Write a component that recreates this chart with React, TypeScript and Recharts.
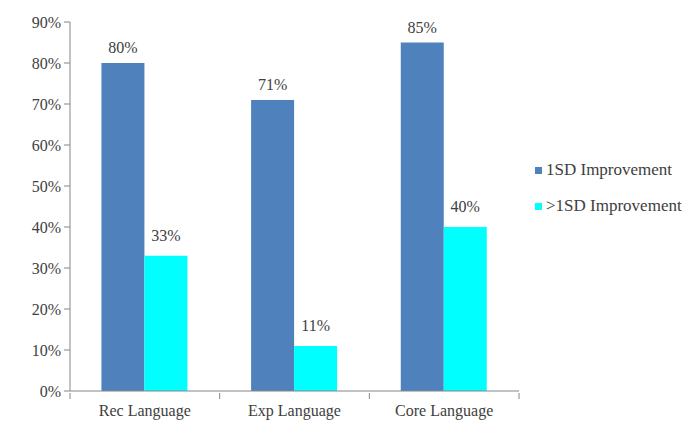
import { BarChart, Bar, XAxis, YAxis, LabelList } from 'recharts'

const categories = ['Rec Language', 'Exp Language', 'Core Language']
const oneSd = [80, 71, 85]
const moreThanOneSd = [33, 11, 40]
const yTicks = [0, 10, 20, 30, 40, 50, 60, 70, 80, 90]

const data = categories.map((name, i) => ({
  name,
  oneSd: oneSd[i],
  moreThanOneSd: moreThanOneSd[i],
}))

const FONT = '"Liberation Serif", "Times New Roman", serif'
const AXIS = '#868686'
const TEXT = '#404040'

function CategoryTick(props: any) {
  const { x, y, payload, index, visibleTicksCount } = props
  const half = payload.offset || 0
  return (
    <g>
      <line x1={x - half} y1={y - 6} x2={x - half} y2={y} stroke={AXIS} />
      {index === visibleTicksCount - 1 && (
        <line x1={x + half} y1={y - 6} x2={x + half} y2={y} stroke={AXIS} />
      )}
      <text x={x} y={y + 17} textAnchor="middle" fill={TEXT} fontSize={16} fontFamily={FONT}>
        {payload.value}
      </text>
    </g>
  )
}

function SideLegend() {
  const items = [
    { label: '1SD Improvement', color: '#4F81BD' },
    { label: '>1SD Improvement', color: '#00FFFF' },
  ]
  return (
    <div style={{ position: 'absolute', left: 535, top: 152, fontFamily: FONT, fontSize: 17, color: TEXT }}>
      {items.map((it) => (
        <div key={it.label} style={{ display: 'flex', alignItems: 'center', height: 36 }}>
          <span style={{ width: 7, height: 7, background: it.color, marginRight: 4, display: 'inline-block' }} />
          {it.label}
        </div>
      ))}
    </div>
  )
}

export default function App() {
  return (
    <div style={{ position: 'absolute', left: 0, top: 0, width: 689, height: 421, background: '#fff' }}>
      <BarChart
        width={689}
        height={421}
        data={data}
        margin={{ top: 22, right: 170, bottom: 6, left: 20 }}
        barCategoryGap="21%"
        barGap={0}
      >
        <XAxis
          dataKey="name"
          stroke={AXIS}
          tickLine={false}
          height={24}
          tick={<CategoryTick />}
          interval={0}
        />
        <YAxis
          domain={[0, 90]}
          ticks={yTicks}
          interval={0}
          width={50}
          stroke={AXIS}
          tickSize={6}
          tickMargin={3}
          tickFormatter={(v: number) => `${v}%`}
          tick={{ fill: TEXT, fontSize: 16, fontFamily: FONT }}
        />
        <Bar dataKey="oneSd" fill="#4F81BD" isAnimationActive={false}>
          <LabelList
            dataKey="oneSd"
            position="top"
            offset={10}
            formatter={(v: any) => `${v}%`}
            style={{ fill: TEXT, fontSize: 16, fontFamily: FONT }}
          />
        </Bar>
        <Bar dataKey="moreThanOneSd" fill="#00FFFF" isAnimationActive={false}>
          <LabelList
            dataKey="moreThanOneSd"
            position="top"
            offset={15}
            formatter={(v: any) => `${v}%`}
            style={{ fill: TEXT, fontSize: 16, fontFamily: FONT }}
          />
        </Bar>
      </BarChart>
      <SideLegend />
    </div>
  )
}
